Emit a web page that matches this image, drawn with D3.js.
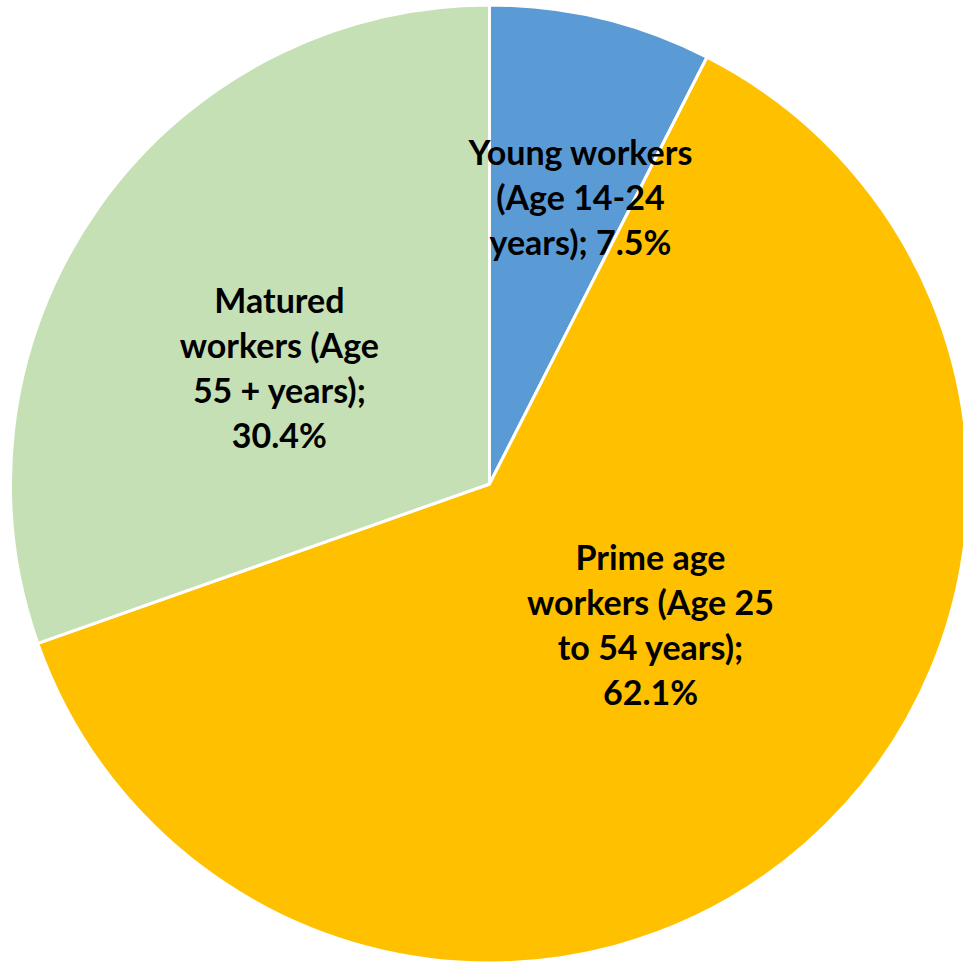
<!DOCTYPE html>
<html>
<head>
<meta charset="utf-8">
<script src="https://cdn.jsdelivr.net/npm/d3@7"></script>
<style>
html,body{margin:0;padding:0;background:#fff;}
svg{display:block;}
</style>
</head>
<body>
<svg id="chart" width="963" height="963"></svg>
<script>
// Data
const categories = [
  ["Young workers", "(Age 14-24", "years); 7.5%"],
  ["Prime age", "workers (Age 25", "to 54 years);", "62.1%"],
  ["Matured", "workers (Age", "55 + years);", "30.4%"]
];
const values = [7.5, 62.1, 30.4];
const colors = ["#5B9BD5", "#FFC000", "#C5E0B4"];
// Label placement (radius fraction, angle shift in degrees from slice middle)
const labelRadius = [0.626, 0.448, 0.501];
const labelShift = [4.15, -7.4, -6.4];

const svg = d3.select("#chart");
const cx = 489.5, cy = 484, R = 479;
const g = svg.append("g").attr("transform", `translate(${cx},${cy})`);

const pie = d3.pie().sort(null).value(d => d)(values);
const arc = d3.arc().innerRadius(0).outerRadius(R);

g.selectAll("path").data(pie).enter().append("path")
  .attr("d", arc)
  .attr("fill", (d, i) => colors[i])
  .attr("stroke", "#fff")
  .attr("stroke-width", 3)
  .attr("stroke-linejoin", "round");

const lh = 45;
pie.forEach((d, i) => {
  const a = (d.startAngle + d.endAngle) / 2 + labelShift[i] * Math.PI / 180;
  const r = labelRadius[i] * R;
  const x = Math.sin(a) * r, y = -Math.cos(a) * r;
  const lines = categories[i];
  const t = g.append("text")
    .attr("text-anchor", "middle")
    .attr("font-family", "Lato, 'Open Sans', sans-serif")
    .attr("font-weight", "bold")
    .attr("font-size", 34)
    .attr("fill", "#000");
  lines.forEach((ln, j) => {
    t.append("tspan")
      .attr("x", x)
      .attr("y", y + (j - (lines.length - 1) / 2) * lh + 12)
      .text(ln);
  });
});
</script>
</body>
</html>
